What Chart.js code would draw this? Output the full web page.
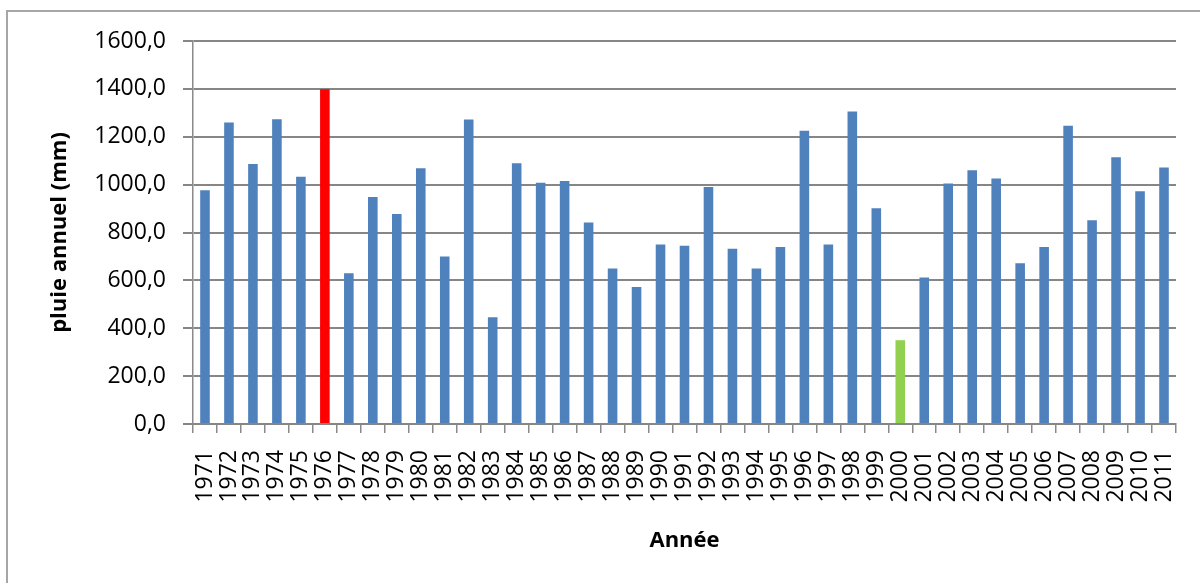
<!DOCTYPE html>
<html>
<head>
<meta charset="utf-8">
<script src="https://cdn.jsdelivr.net/npm/chart.js@4"></script>
<style>
  html, body { margin: 0; padding: 0; background: #fff; }
  #wrap { width: 1200px; height: 583px; position: relative; }
</style>
</head>
<body>
<div id="wrap"><canvas id="c" width="1200" height="583"></canvas></div>
<script>
const years = [1971,1972,1973,1974,1975,1976,1977,1978,1979,1980,1981,1982,1983,1984,1985,1986,1987,1988,1989,1990,1991,1992,1993,1994,1995,1996,1997,1998,1999,2000,2001,2002,2003,2004,2005,2006,2007,2008,2009,2010,2011];
const rainfall = [977,1260,1086,1273,1033,1398,630,948,877,1068,700,1272,446,1089,1008,1015,842,650,572,750,745,990,732,650,739,1225,750,1306,901,350,612,1005,1060,1026,672,739,1246,851,1114,972,1072];
const yTicks = [0,200,400,600,800,1000,1200,1400,1600];

const maxVal = Math.max(...rainfall);
const minVal = Math.min(...rainfall);

const frame = {
  id: 'frame',
  beforeDraw(chart) {
    const ctx = chart.ctx;
    ctx.save();
    ctx.fillStyle = '#fff';
    ctx.fillRect(0, 0, chart.width, chart.height);
    ctx.strokeStyle = '#a6a6a6';
    ctx.lineWidth = 2;
    ctx.strokeRect(7, 11, 1400, 800);
    ctx.restore();
  }
};

const FONT = "'Open Sans', 'DejaVu Sans', sans-serif";

new Chart(document.getElementById('c'), {
  type: 'bar',
  data: {
    labels: years.map(String),
    datasets: [{
      data: rainfall,
      backgroundColor: ctx => {
        const v = ctx.raw;
        if (v === maxVal) return '#FF0000';
        if (v === minVal) return '#92D050';
        return '#4F81BD';
      },
      borderWidth: 0,
      barPercentage: 0.4,
      categoryPercentage: 1.0
    }]
  },
  options: {
    responsive: false,
    animation: false,
    devicePixelRatio: 1,
    layout: { padding: { left: 10, right: 24, top: 41, bottom: 0 } },
    plugins: { legend: { display: false }, tooltip: { enabled: false } },
    scales: {
      x: {
        grid: { offset: true, drawOnChartArea: false, drawTicks: true, tickLength: 9, color: '#8a8a8a', lineWidth: 1.5 },
        border: { display: true, color: '#868686', width: 2 },
        ticks: { maxRotation: 90, minRotation: 90, autoSkip: false, padding: 17, color: '#000', font: { family: FONT, size: 23 } },
        title: { display: true, text: 'Année', color: '#000', font: { family: FONT, size: 22, weight: 'bold' }, padding: { top: 0, bottom: 29 } },
        afterFit(scale) { scale.height = 159; scale.paddingLeft = 0; scale.paddingRight = 0; }
      },
      y: {
        min: 0, max: 1600,
        afterBuildTicks(scale) { scale.ticks = yTicks.map(v => ({ value: v })); },
        grid: { color: '#868686', lineWidth: 2, tickLength: 10, drawTicks: true },
        border: { display: true, color: '#8a8a8a', width: 1.5 },
        ticks: {
          padding: 17, color: '#000', font: { family: FONT, size: 23 },
          callback: v => v.toFixed(1).replace('.', ',')
        },
        title: { display: true, text: 'pluie annuel (mm)', color: '#000', font: { family: FONT, size: 22, weight: 'bold' }, padding: { top: 37, bottom: 0 } },
        afterFit(scale) { scale.width = 183; }
      }
    }
  },
  plugins: [frame]
});
</script>
</body>
</html>
